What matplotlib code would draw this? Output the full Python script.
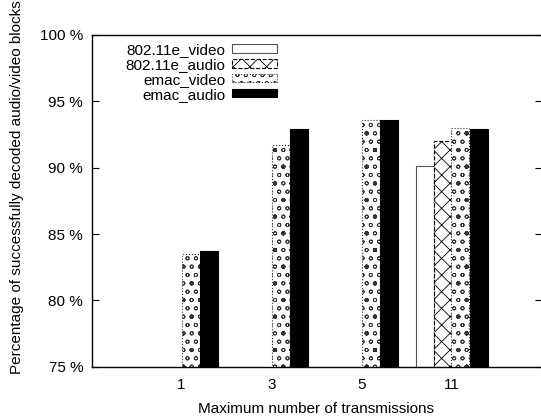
import numpy as np
import matplotlib
matplotlib.use("Agg")
import matplotlib.pyplot as plt

# -----------------------------
# data (percentage of decoded blocks)
# -----------------------------
max_tx = ["1", "3", "5", "11"]
series = ["802.11e_video", "802.11e_audio", "emac_video", "emac_audio"]

# 802.11e results for 1/3/5 fall below the 75 % floor of the plot
ieee_video = [np.nan, np.nan, np.nan, 90.1]
ieee_audio = [np.nan, np.nan, np.nan, 92.0]
emac_video = [83.5, 91.7, 93.6, 93.0]
emac_audio = [83.7, 92.9, 93.6, 92.9]

plt.rcParams["font.family"] = ["Liberation Sans", "DejaVu Sans"]
plt.rcParams["font.size"] = 11
plt.rcParams["hatch.linewidth"] = 0.6

fig = plt.figure(figsize=(5.41, 4.17), dpi=100)
ax = fig.add_axes([91.5 / 541, 50.3 / 417, 450 / 541, 331.7 / 417])

x = np.arange(1, len(max_tx) + 1)
w = 0.2
styles = [
    dict(facecolor="white", edgecolor="#555555", hatch=None, linestyle="-"),
    dict(facecolor="white", edgecolor="black", hatch="xx", linestyle="--"),
    dict(facecolor="white", edgecolor="#333333", hatch="oo.", linestyle=":"),
    dict(facecolor="black", edgecolor="black", hatch=None, linestyle="-"),
]
values = [ieee_video, ieee_audio, emac_video, emac_audio]

for i, (name, vals, st) in enumerate(zip(series, values, styles)):
    ax.bar(x + (i - 1.5) * w, np.array(vals) - 75, bottom=75, width=w,
           label=name, linewidth=0.8, **st)

ax.set_xlim(0, 5)
ax.set_ylim(75, 100)
ax.set_xticks(x)
ax.set_xticklabels(max_tx)
ax.set_yticks(np.arange(75, 101, 5))
ax.set_yticklabels(["%d %%" % v for v in range(75, 101, 5)])
ax.tick_params(axis="y", direction="in", length=5, width=0.8, right=True, pad=6)
ax.tick_params(axis="x", length=0, pad=8)
for s in ax.spines.values():
    s.set_linewidth(1.0)

ax.set_xlabel("Maximum number of transmissions", labelpad=7)
fig.text(17 / 541, 1 - 187 / 417,
         "Percentage of successfully decoded audio/video blocks",
         rotation=90, ha="center", va="center", fontsize=11)

ax.legend(loc="upper right", bbox_to_anchor=(277 / 541, 1 - 43 / 417),
          bbox_transform=fig.transFigure, frameon=False, markerfirst=False,
          borderpad=0, borderaxespad=0, handlelength=2.95, handleheight=0.45,
          handletextpad=0.45, labelspacing=0.06)

fig.savefig("out.png", dpi=100)
